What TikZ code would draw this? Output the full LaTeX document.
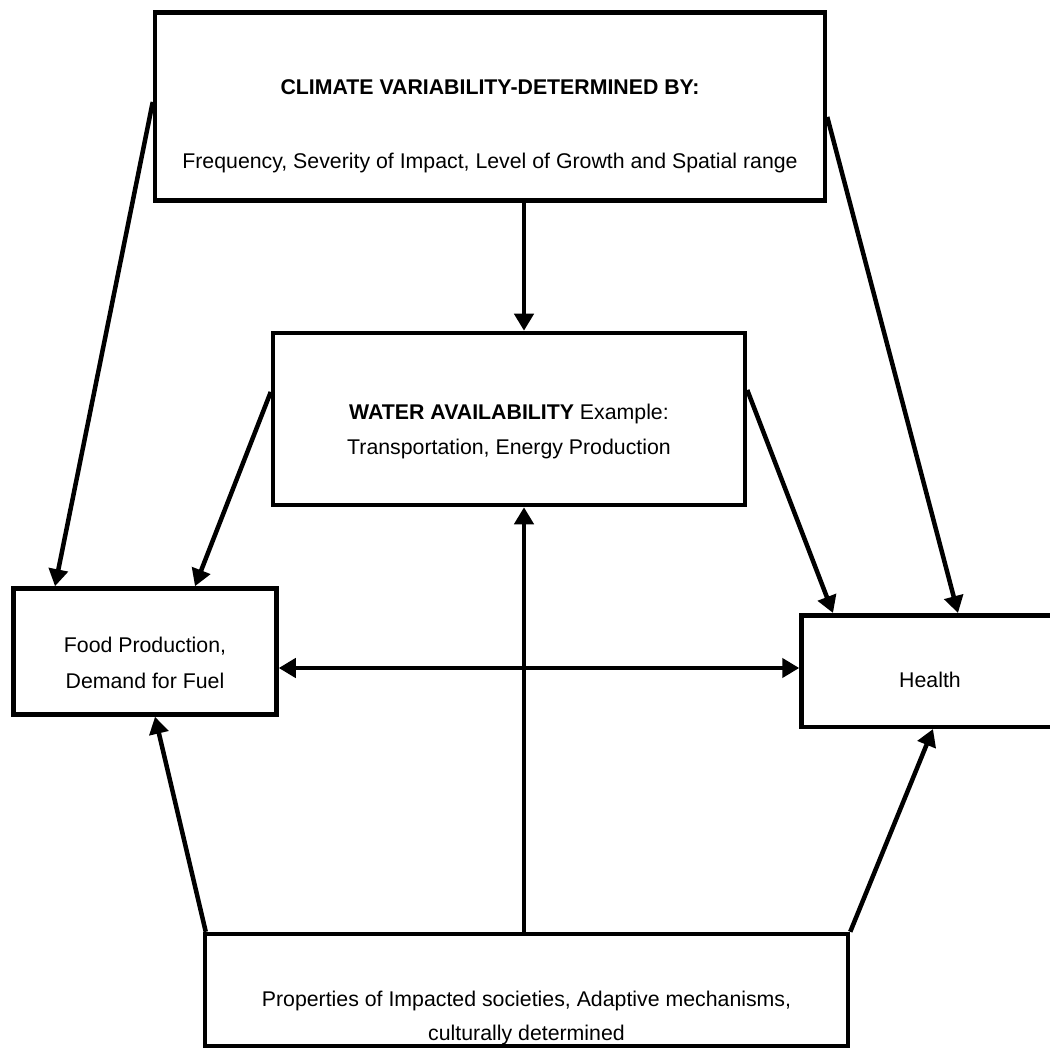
\documentclass[tikz,border=0pt]{standalone}
\usepackage{fontspec}
\setmainfont{Liberation Sans}
\usetikzlibrary{arrows.meta, calc}
\newcommand{\boxfont}{\fontsize{21.3}{25.6}\selectfont}
\tikzset{
  box/.style={
    draw,
    rectangle,
    line width=4.5pt,
    inner sep=0pt,
    align=center,
    font=\boxfont,
  },
  link/.style={
    line width=4.5pt,
    -{Triangle[length=17pt,width=19pt]}
  },
  twolink/.style={
    line width=4.5pt,
    {Triangle[length=17pt,width=19pt]}-{Triangle[length=17pt,width=19pt]}
  }
}
\begin{document}
\begin{tikzpicture}[x=1pt, y=-1pt]
  \useasboundingbox (0,0) rectangle (1050,1048);

  % boxes
  \node[box, minimum width=670pt, minimum height=188pt, text height=125pt, text depth=0pt] (clim) at (490,106.5)
    {\textbf{CLIMATE VARIABILITY-DETERMINED BY:}\\[49pt] Frequency, Severity of Impact, Level of Growth and Spatial range};
  \node[box, minimum width=472pt, minimum height=172pt, text height=72pt, text depth=0pt] (water) at (509,419)
    {\textbf{WATER AVAILABILITY} Example:\\[10pt] Transportation, Energy Production};
  \node[box, minimum width=263pt, minimum height=126pt, text height=73pt, text depth=0pt] (food) at (145,651.5)
    {Food Production,\\[10pt] Demand for Fuel};
  \node[box, minimum width=257pt, minimum height=111.5pt, text height=32pt, text depth=0pt] (health) at (930,671)
    {Health};
  \node[box, minimum width=643pt, minimum height=112pt, text height=100pt, text depth=0pt] (soc) at (526.5,990)
    {Properties of Impacted societies, Adaptive mechanisms,\\[8pt] culturally determined};

  % arrows from the top
  \draw[link] ([yshift=4.5pt]clim.west) -- ([xshift=-90pt]food.north);
  \draw[link] ([yshift=-10.5pt]clim.east) -- ([xshift=28pt]health.north);
  \draw[link] ([xshift=34pt]clim.south) -- ([xshift=15pt]water.north);
  \draw[link] ([yshift=27pt]water.west) -- ([xshift=50pt]food.north);
  \draw[link] ([yshift=29pt]water.east) -- ([xshift=-97pt]health.north);

  % middle row
  \draw[twolink] ([yshift=-16.5pt]food.east) -- ([yshift=3pt]health.west);

  % arrows from the bottom
  \draw[link] ([xshift=-2.5pt]soc.north) -- ([xshift=15pt]water.south);
  \draw[link] ([xshift=3pt]soc.north west) -- ([xshift=10pt]food.south);
  \draw[link] (soc.north east) -- ([xshift=3pt]health.south);
\end{tikzpicture}
\end{document}
